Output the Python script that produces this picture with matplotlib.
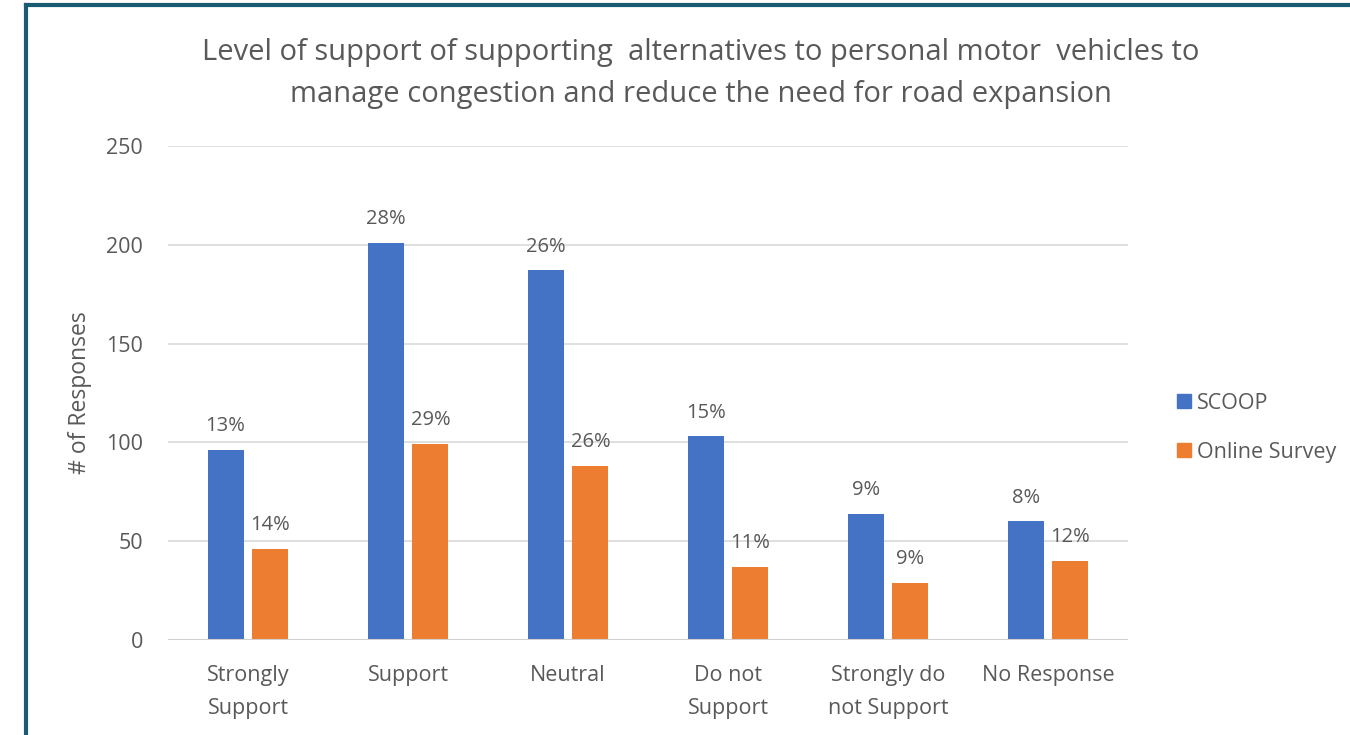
import matplotlib.pyplot as plt
from matplotlib.lines import Line2D
import numpy as np

categories = ["Strongly\nSupport", "Support", "Neutral", "Do not\nSupport",
              "Strongly do\nnot Support", "No Response"]
scoop = [96, 201, 187, 103, 64, 60]
online = [46, 99, 88, 37, 29, 40]
scoop_pct = ["13%", "28%", "26%", "15%", "9%", "8%"]
online_pct = ["14%", "29%", "26%", "11%", "9%", "12%"]

BLUE = "#4472C4"
ORANGE = "#ED7D31"
TXT = "#595959"
FONT = "Open Sans"

plt.rcParams['font.family'] = [FONT, 'DejaVu Sans']

fig = plt.figure(figsize=(13.5, 7.35), dpi=100)
ax = fig.add_axes([0.1244, 0.1293, 0.7112, 0.6721])

x = np.arange(len(categories))
w = 0.225
off = 0.14
b1 = ax.bar(x - off, scoop, w, color=BLUE, zorder=3)
b2 = ax.bar(x + off, online, w, color=ORANGE, zorder=3)

for rects, labels in ((b1, scoop_pct), (b2, online_pct)):
    for r, lab in zip(rects, labels):
        ax.annotate(lab, (r.get_x() + r.get_width() / 2, r.get_height()),
                    xytext=(0, 10), textcoords="offset points",
                    ha="center", va="bottom", fontsize=14.5, color=TXT)

ax.set_xlim(-0.5, len(categories) - 0.5)
ax.set_ylim(0, 250)
ax.set_yticks(range(0, 251, 50))
ax.set_xticks(x)
ax.set_xticklabels(categories, fontsize=15.5, color=TXT, linespacing=1.75)
ax.tick_params(axis='y', labelsize=15.5, colors=TXT, length=0, pad=18)
ax.tick_params(axis='x', length=0, pad=18)
ax.grid(axis='y', color="#D9D9D9", lw=1.2, zorder=0)
for s in ax.spines.values():
    s.set_visible(False)
ax.axhline(0, color="#D0D0D0", lw=1.5, zorder=4)

ax.set_ylabel("# of Responses", fontsize=16.5, color=TXT, labelpad=10)

fig.text(0.519, 0.9, "Level of support of supporting  alternatives to personal motor  vehicles to\n"
         "manage congestion and reduce the need for road expansion",
         ha="center", va="center", fontsize=21, color=TXT, linespacing=1.62)

handles = [Line2D([], [], marker='s', ls='', color=BLUE, markersize=10),
           Line2D([], [], marker='s', ls='', color=ORANGE, markersize=10)]
fig.legend(handles, ["SCOOP", "Online Survey"], loc="center left",
           bbox_to_anchor=(0.855, 0.418), frameon=False, fontsize=15.5,
           labelcolor=TXT, handletextpad=0.1, labelspacing=1.3,
           handlelength=1.0)

# border on top and left
fig.add_artist(Line2D([0.019, 1.0], [0.993, 0.993], transform=fig.transFigure,
                      color="#1B5A73", lw=3))
fig.add_artist(Line2D([0.019, 0.019], [0.0, 0.993], transform=fig.transFigure,
                      color="#1B5A73", lw=3))

fig.savefig("out.png", dpi=100)
